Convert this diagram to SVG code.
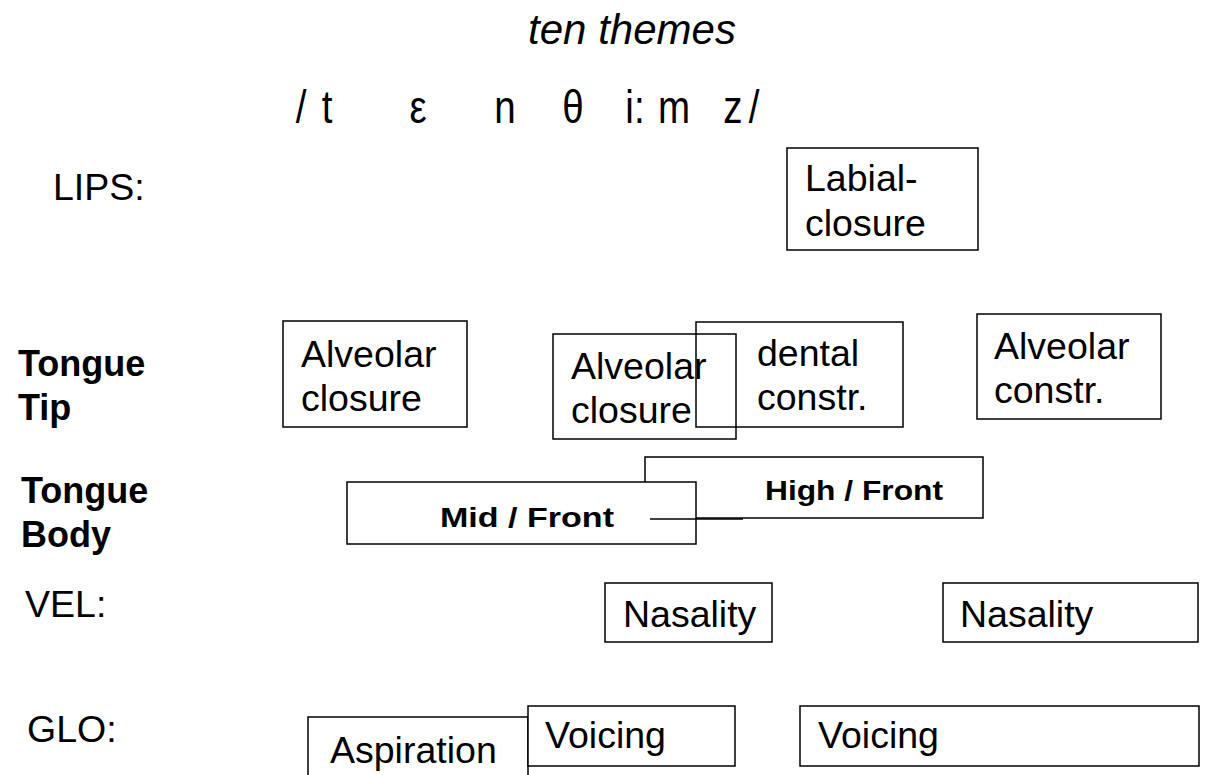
<svg xmlns="http://www.w3.org/2000/svg" width="1208" height="775" viewBox="0 0 1208 775">
  <style>
    text { font-family: "Liberation Sans", Arial, sans-serif; fill: #000; }
    .t { font-size: 37.5px; }
    .b { font-size: 36px; font-weight: bold; }
    .tb { font-size: 28px; font-weight: bold; }
    .ph { font-size: 47px; text-anchor: middle; }
    .box { fill: none; stroke: #000; stroke-width: 1.5; }
    .boxw { fill: #fff; stroke: #000; stroke-width: 1.5; }
    .ln { stroke: #000; stroke-width: 1.5; fill: none; }
  </style>

  <!-- heading -->
  <text x="632" y="44" font-size="42" font-style="italic" text-anchor="middle">ten themes</text>

  <!-- transcription, narrow glyphs -->
  <g id="transcription">
    <text class="ph" transform="translate(301,123) scale(0.82,1)">/</text>
    <text class="ph" transform="translate(327,123) scale(0.82,1)">t</text>
    <text class="ph" transform="translate(418,123) scale(0.82,1)">ε</text>
    <text class="ph" transform="translate(505,123) scale(0.82,1)">n</text>
    <text class="ph" transform="translate(573,123) scale(0.82,1)">θ</text>
    <text class="ph" transform="translate(635,123) scale(0.82,1)">i:</text>
    <text class="ph" transform="translate(674,123) scale(0.82,1)">m</text>
    <text class="ph" transform="translate(733,123) scale(0.82,1)">z</text>
    <text class="ph" transform="translate(754,123) scale(0.82,1)">/</text>
  </g>

  <!-- tier labels -->
  <g id="tiers">
    <text class="t" x="53" y="200">LIPS:</text>
    <text class="b" x="18" y="376">Tongue</text>
    <text class="b" x="18" y="420">Tip</text>
    <text class="b" x="21" y="503">Tongue</text>
    <text class="b" x="21" y="547">Body</text>
    <text class="t" x="25" y="617">VEL:</text>
    <text class="t" x="27" y="742">GLO:</text>
  </g>

  <!-- lips -->
  <g id="labial-closure">
    <rect class="box" x="787" y="148" width="191" height="102"/>
    <text class="t" x="805" y="191">Labial-</text>
    <text class="t" x="805" y="236">closure</text>
  </g>

  <!-- tongue tip -->
  <g id="alveolar-closure-1">
    <rect class="box" x="283" y="321" width="184" height="106"/>
    <text class="t" x="301" y="367">Alveolar</text>
    <text class="t" x="301" y="411">closure</text>
  </g>
  <g id="alveolar-closure-2">
    <rect class="box" x="553" y="334" width="183" height="105"/>
    <text class="t" x="571" y="379">Alveolar</text>
    <text class="t" x="571" y="423">closure</text>
  </g>
  <g id="dental-constr">
    <rect class="box" x="696" y="322" width="207" height="105"/>
    <text class="t" x="757" y="366">dental</text>
    <text class="t" x="757" y="410">constr.</text>
  </g>
  <g id="alveolar-constr">
    <rect class="box" x="977" y="314" width="184" height="105"/>
    <text class="t" x="994" y="359">Alveolar</text>
    <text class="t" x="994" y="403">constr.</text>
  </g>

  <!-- tongue body -->
  <g id="high-front">
    <rect class="box" x="645" y="457" width="338" height="61"/>
    <text class="tb" x="765" y="500" textLength="178" lengthAdjust="spacingAndGlyphs">High / Front</text>
  </g>
  <g id="mid-front">
    <rect class="boxw" x="347" y="482" width="349" height="62"/>
    <text class="tb" x="440" y="527" textLength="174" lengthAdjust="spacingAndGlyphs">Mid / Front</text>
  </g>

  <!-- velum -->
  <g id="nasality-1">
    <rect class="box" x="605" y="583" width="167" height="59"/>
    <text class="t" x="623" y="627">Nasality</text>
  </g>
  <g id="nasality-2">
    <rect class="box" x="943" y="583" width="255" height="59"/>
    <text class="t" x="960" y="627">Nasality</text>
  </g>

  <!-- glottis -->
  <g id="aspiration">
    <rect class="box" x="308" y="717" width="220" height="70"/>
    <text class="t" x="330" y="763">Aspiration</text>
  </g>
  <g id="voicing-1">
    <rect class="boxw" x="528" y="706" width="207" height="60"/>
    <text class="t" x="545" y="748">Voicing</text>
  </g>
  <g id="voicing-2">
    <rect class="box" x="800" y="706" width="399" height="60"/>
    <text class="t" x="818" y="748">Voicing</text>
  </g>

  <!-- connectors -->
  <g id="connectors">
    <polyline class="ln" points="650,519 743,519"/>
  </g>
</svg>
